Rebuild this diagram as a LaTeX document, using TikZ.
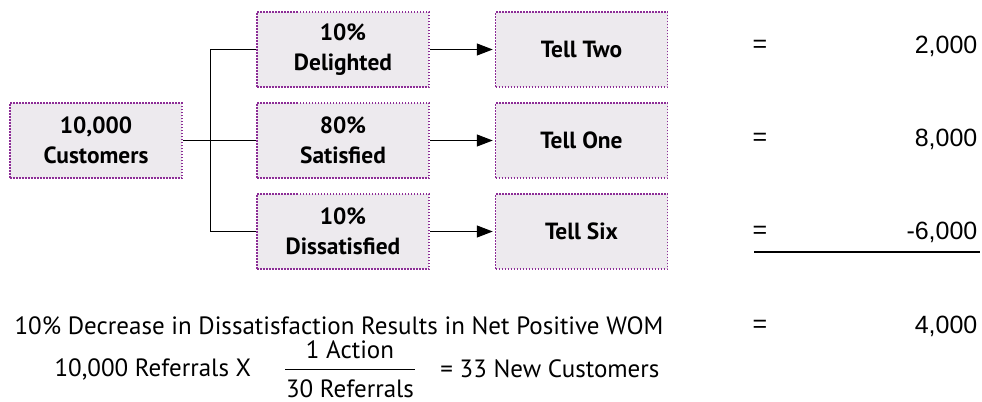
\documentclass[tikz,border=0pt]{standalone}
\usepackage{fontspec}
\setmainfont{Liberation Sans}
\newfontfamily\boxfont{PT Sans}
\usepackage{tikz}
\usetikzlibrary{arrows.meta,trees}
\usepackage[dvipsnames]{xcolor}

\definecolor{boxfill}{RGB}{237,234,238}
\definecolor{boxline}{RGB}{140,45,150}

\tikzset{
    infobox/.style = {draw = boxline, fill = boxfill, line width = 0.75pt,
                      dash pattern = on 0.75pt off 0.75pt,
                      minimum width = 86pt, minimum height = 37.5pt,
                      align = center, inner sep = 0pt,
                      font = \boxfont\bfseries\fontsize{11.7}{15}\selectfont},
    sumtext/.style  = {inner sep = 0pt, font = \fontsize{12.5}{14}\selectfont},
    notetext/.style = {inner sep = 0pt, font = \boxfont\fontsize{12.5}{14}\selectfont}
}

\begin{document}
\begin{tikzpicture}[x=0.5pt, y=0.5pt,
            grow'=right,
            line width=0.6pt,
            level 1/.style={level distance=123.5pt, sibling distance=45.5pt,
                edge from parent path={(\tikzparentnode.east) -- +(14pt,0) |- (\tikzchildnode.west)}},
            level 2/.style={level distance=119.25pt,
                edge from parent path={(\tikzparentnode.east) -- (\tikzchildnode.west)}},
            ]
            \useasboundingbox (0,0) rectangle (982,-402);

            % the customer split and what each group tells
            \node[infobox] (cust) at (96,-140.5) {10,000\\Customers}
                child {node[infobox] (del) {10\%\\Delighted}
                    child {node[infobox] (two) {Tell Two} edge from parent[-{Triangle[length=8pt,width=6pt]}, shorten >=1pt]}
                }
                child {node[infobox] (sat) {80\%\\Satisfied}
                    child {node[infobox] (one) {Tell One} edge from parent[-{Triangle[length=8pt,width=6pt]}, shorten >=1pt]}
                }
                child {node[infobox] (dis) {10\%\\Dissatisfied}
                    child {node[infobox] (six) {Tell Six} edge from parent[-{Triangle[length=8pt,width=6pt]}, shorten >=1pt]}
                };

            % totals
            \node[sumtext] (eqtwo) at (760,-46) {=};
            \node[sumtext, anchor=east] (valtwo) at (978,-46) {2,000};
            \node[sumtext] (eqone) at (760,-139) {=};
            \node[sumtext, anchor=east] (valone) at (978,-139) {8,000};
            \node[sumtext] (eqsix) at (760,-232) {=};
            \node[sumtext, anchor=east] (valsix) at (978,-232) {-6,000};
            \draw (754,-252) -- (980,-252);

            \node[notetext, anchor=west] (wom) at (14,-326) {10\% Decrease in Dissatisfaction Results in Net Positive WOM};
            \node[sumtext] (eqnet) at (760,-326) {=};
            \node[sumtext, anchor=east] (valnet) at (978,-326) {4,000};

            % referrals to new customers
            \node[notetext, anchor=west] (refs) at (54,-369) {10,000 Referrals X};
            \node[notetext] (act) at (350,-350) {1 Action};
            \node[notetext] (per) at (350,-389) {30 Referrals};
            \draw ([yshift=5pt]per.north west) -- ([yshift=5pt]per.north east);
            \node[notetext, anchor=east] (newcust) at (660,-369) {= 33 New Customers};
        \end{tikzpicture}
\end{document}
